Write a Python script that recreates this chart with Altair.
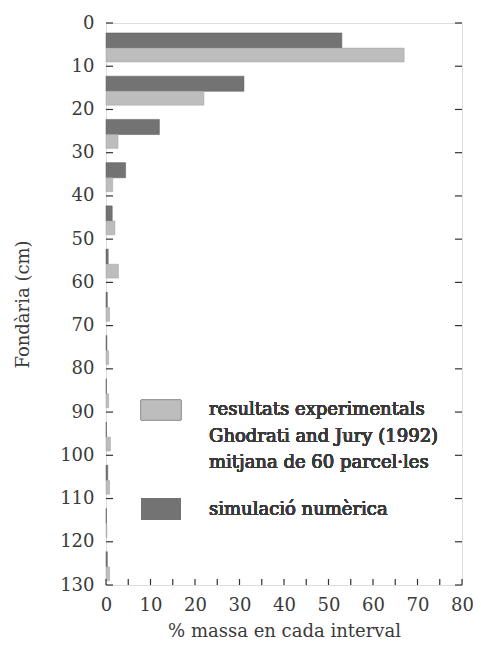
import altair as alt
import pandas as pd

# depth intervals (cm, start of each 10 cm interval)
depth_start = [0, 10, 20, 30, 40, 50, 60, 70, 80, 90, 100, 110, 120]
# % mass in each interval
simulacio = [53, 31, 12, 4.4, 1.4, 0.5, 0.3, 0.2, 0.1, 0.1, 0.4, 0.1, 0.3]
experimental = [67, 22, 2.7, 1.5, 2.0, 2.8, 0.8, 0.6, 0.6, 1.0, 0.8, 0.2, 0.8]

x_labels = list(range(0, 81, 10))
x_ticks_minor = list(range(0, 81, 5))
y_ticks = list(range(0, 131, 10))

W, H = 356, 562
FONT = "DejaVu Serif"
TXT = "#3a3a3a"
C_EXP = "#bdbdbd"
C_SIM = "#737373"

df = pd.DataFrame({"depth": depth_start, "sim": simulacio, "exp": experimental})
xt = pd.DataFrame({"v": x_ticks_minor})
yt = pd.DataFrame({"v": y_ticks})

xscale = alt.Scale(domain=[0, 80], nice=False, zero=True)
yscale = alt.Scale(domain=[0, 130], reverse=True, nice=False)

XAX = alt.Axis(values=x_labels, title="% massa en cada interval",
               ticks=False, domain=False, grid=False, labelPadding=11, labelFlush=False,
               labelFontSize=18, titleFontSize=18, titleFont=FONT, labelFont=FONT,
               labelColor=TXT, titleColor=TXT, titleFontWeight="normal", titlePadding=8)
YAX = alt.Axis(values=y_ticks, title="Fondària (cm)", ticks=False, domain=False,
               grid=False, labelPadding=12, labelFlush=False, labelFontSize=18, titleFontSize=18,
               titleFont=FONT, labelFont=FONT, labelColor=TXT, titleColor=TXT,
               titleFontWeight="normal", titlePadding=27)
XT = "% massa en cada interval"
YT = "Fondària (cm)"

base = alt.Chart(df)

sim_bars = base.transform_calculate(
    y0="datum.depth + 2.3", y1="datum.depth + 5.8"
).mark_bar(color=C_SIM, stroke="#5a5a5a", strokeWidth=0.5).encode(
    x=alt.X("sim:Q", scale=xscale, axis=XAX, title=XT),
    x2=alt.datum(0),
    y=alt.Y("y0:Q", scale=yscale, axis=YAX, title=YT),
    y2="y1:Q",
)

exp_bars = base.transform_calculate(
    y0="datum.depth + 5.8", y1="datum.depth + 9.0"
).mark_bar(color=C_EXP, stroke="#a0a0a0", strokeWidth=0.5).encode(
    x=alt.X("exp:Q", scale=xscale, axis=XAX, title=XT),
    x2=alt.datum(0),
    y=alt.Y("y0:Q", scale=yscale, axis=YAX, title=YT),
    y2="y1:Q",
)

bottom_ticks = alt.Chart(xt).mark_rule(color="#333", strokeWidth=1.2).encode(
    x=alt.X("v:Q", scale=xscale, axis=XAX, title=XT),
    y=alt.value(H), y2=alt.value(H - 6),
)
left_ticks = alt.Chart(yt).mark_rule(color="#333", strokeWidth=1.2).encode(
    y=alt.Y("v:Q", scale=yscale, axis=YAX, title=YT),
    x=alt.value(0), x2=alt.value(7),
)
right_ticks = alt.Chart(yt).mark_rule(color="#333", strokeWidth=1.2).encode(
    y=alt.Y("v:Q", scale=yscale, axis=YAX, title=YT),
    x=alt.value(W), x2=alt.value(W - 7),
)

leg_exp_box = alt.Chart(df).mark_rect(color=C_EXP, stroke="#999", strokeWidth=0.5).encode(
    x=alt.value(35), x2=alt.value(75), y=alt.value(377), y2=alt.value(397))
leg_sim_box = alt.Chart(df).mark_rect(color=C_SIM).encode(
    x=alt.value(35), x2=alt.value(75), y=alt.value(475), y2=alt.value(497))

leg_text_exp = alt.Chart(df).mark_text(
    text=["resultats experimentals", "Ghodrati and Jury (1992)", "mitjana de 60 parcel·les"],
    align="left", baseline="middle", font=FONT, fontSize=18, color=TXT, lineHeight=26.5,
).encode(x=alt.value(103), y=alt.value(387))
leg_text_sim = alt.Chart(df).mark_text(
    text="simulació numèrica", align="left", baseline="middle", font=FONT, fontSize=18,
    color=TXT,
).encode(x=alt.value(103), y=alt.value(487))

chart = alt.layer(
    sim_bars, exp_bars, bottom_ticks, left_ticks, right_ticks,
    leg_exp_box, leg_sim_box, leg_text_exp, leg_text_sim,
).properties(
    width=W, height=H,
    autosize=alt.AutoSizeParams(type="none"),
    padding={"left": 98, "top": 15, "right": 11, "bottom": 62},
).configure_view(stroke="#333", strokeWidth=1.5).configure(background="white")

chart.save("out.html", embed_options={"renderer": "svg", "actions": False})
